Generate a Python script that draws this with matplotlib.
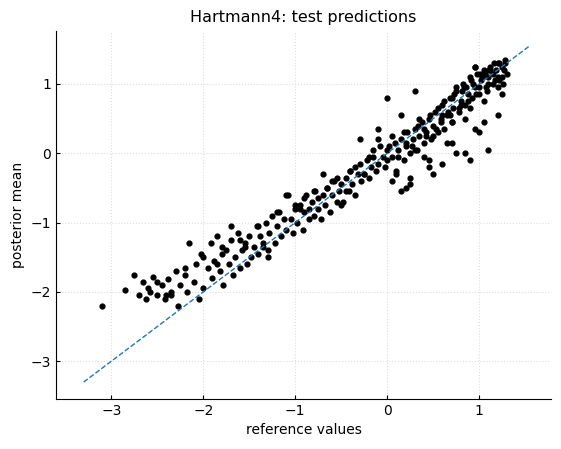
import matplotlib
matplotlib.use("Agg")
import matplotlib.pyplot as plt

ref_x = [-3.1,-2.85,-2.75,-2.7,-2.65,-2.62,-2.58,-2.55,-2.5,-2.45,-2.42,-2.38,-2.35,-2.3,-2.28,-2.25,-2.2,-2.18,-2.15,-2.1,-2.08,-2.05,-2.02,-2.0,
 -1.95,-1.92,-1.9,-1.88,-1.85,-1.82,-1.8,-1.78,-1.75,-1.72,-1.7,-1.68,-1.65,-1.62,-1.6,-1.58,-1.55,-1.52,-1.5,-1.48,-1.45,-1.42,-1.4,-1.38,-1.35,-1.32,-1.3,-1.28,-1.25,-1.22,-1.2,-1.18,-1.15,-1.12,-1.1,-1.08,-1.05,-1.02,-1.0,
 -0.98,-0.95,-0.92,-0.9,-0.88,-0.85,-0.82,-0.8,-0.78,-0.75,-0.72,-0.7,-0.68,-0.65,-0.62,-0.6,-0.58,-0.55,-0.52,-0.5,-0.48,-0.45,-0.42,-0.4,-0.38,-0.35,-0.32,-0.3,-0.28,-0.25,-0.22,-0.2,-0.18,-0.15,-0.12,-0.1,-0.08,-0.05,-0.02,
 0.0,0.02,0.05,0.08,0.1,0.12,0.15,0.18,0.2,0.22,0.25,0.28,0.3,0.32,0.35,0.38,0.4,0.42,0.45,0.48,0.5,0.52,0.55,0.58,0.6,0.62,0.65,0.68,0.7,0.72,0.75,0.78,0.8,0.82,0.85,0.88,0.9,0.92,0.95,0.98,1.0,1.02,1.05,1.08,1.1,1.12,1.15,1.18,1.2,1.22,1.25,1.28,1.3,
 -2.6,-2.4,-2.2,-2.0,-1.8,-1.6,-1.4,-1.2,-1.0,-0.8,-0.6,-0.4,-0.2,0.0,0.1,0.2,0.3,0.4,0.5,0.6,0.7,0.8,0.9,1.0,1.1,1.2,1.25,
 -1.7,-1.3,-0.9,-0.5,-0.1,0.05,0.15,0.25,0.35,0.45,0.55,0.65,0.75,0.85,0.95,1.05,1.15,1.25,1.28,
 0.3,0.0,0.9,0.75,0.2,-0.1,0.5,1.0,0.6,1.1,0.15,0.45,0.85,1.2,0.95,0.7,1.05,0.4,0.25,-0.3,-0.7,-1.1,
 0.62,0.68,0.73,0.78,0.83,0.88,0.93,0.97,1.03,1.07,1.12,1.17,1.22,1.27,0.66,0.71,0.81,0.91,1.01,1.11,1.21,0.86,0.96,1.06,1.16,1.26,
 0.05,0.12,0.18,0.27,0.33,0.42,0.47,0.53,0.58,-0.15,-0.25,-0.35,-0.45,-0.55,-0.65,-0.75,-0.85,-0.95,-1.35,-1.55,-1.85,-2.35,-2.5]
post_y = [-2.2,-1.97,-1.75,-2.05,-1.85,-2.1,-2.0,-1.78,-2.05,-1.9,-2.1,-1.82,-2.0,-1.7,-2.2,-1.9,-1.75,-2.0,-1.3,-1.85,-1.6,-2.1,-1.45,-1.95,
 -1.65,-1.3,-1.8,-1.55,-1.2,-1.7,-1.45,-1.9,-1.4,-1.6,-1.25,-1.75,-1.5,-1.15,-1.65,-1.4,-1.3,-1.6,-1.2,-1.5,-1.35,-1.05,-1.45,-1.2,-1.3,-1.0,-1.4,-1.15,-0.9,-1.3,-1.05,-0.85,-1.2,-0.95,-1.1,-0.6,-0.95,-1.15,-0.8,
 -1.0,-0.75,-1.1,-0.85,-0.6,-0.95,-0.7,-0.9,-0.55,-0.8,-0.95,-0.6,-0.75,-0.5,-0.85,-0.6,-0.4,-0.7,-0.55,-0.45,-0.7,-0.35,-0.55,-0.25,-0.45,-0.6,-0.3,-0.15,-0.4,-0.3,-0.1,-0.35,-0.2,0.05,-0.25,-0.15,0.1,-0.05,-0.2,
 -0.1,0.1,-0.05,0.15,-0.25,0.05,0.2,-0.1,0.1,0.3,0.0,0.2,0.35,0.05,0.25,0.45,0.15,0.3,0.5,0.2,0.4,0.6,0.3,0.5,0.7,0.35,0.55,0.8,0.45,0.65,0.9,0.6,0.75,1.0,0.7,0.85,1.1,0.8,0.95,1.15,0.85,1.05,1.2,0.9,1.1,1.25,1.0,1.2,1.3,1.05,1.25,1.35,1.15,
 -1.95,-2.05,-1.65,-1.5,-1.35,-1.25,-1.05,-0.85,-0.75,-0.55,-0.4,-0.25,-0.05,0.05,-0.3,0.15,0.05,0.35,0.25,0.55,0.45,0.7,0.65,0.95,1.0,0.95,1.1,
 -1.05,-1.5,-0.65,-0.75,0.2,-0.4,0.55,-0.35,0.5,-0.1,0.65,0.15,0.95,0.5,1.25,0.75,1.15,0.85,1.3,
 0.9,0.8,-0.1,0.0,-0.5,0.35,-0.3,0.3,-0.15,0.05,-0.55,-0.2,0.0,0.55,0.35,0.15,0.45,-0.05,-0.45,0.2,-0.3,-0.6,
 0.75,0.55,0.85,0.65,0.95,0.75,1.0,0.85,1.1,0.95,1.2,1.05,1.3,1.2,0.6,0.8,0.9,1.05,1.15,1.2,1.1,0.95,1.25,1.15,1.3,1.0,
 0.25,-0.05,0.3,0.1,0.4,0.25,0.55,0.35,0.45,-0.05,-0.3,-0.2,-0.55,-0.35,-0.5,-0.65,-0.8,-0.8,-1.35,-1.35,-1.6,-2.05,-1.85]

fig = plt.figure(figsize=(5.61, 4.49), dpi=100)
ax = fig.add_axes([0.1, 0.112, 0.882, 0.82])
ax.scatter(ref_x, post_y, s=12, color="black", zorder=3)
ax.plot([-3.3, 1.55], [-3.3, 1.55], "--", color="#1f77b4", lw=1, zorder=4)
ax.set_xlim(-3.6, 1.78)
ax.set_ylim(-3.54, 1.77)
ax.set_xticks([-3, -2, -1, 0, 1])
ax.set_yticks([-3, -2, -1, 0, 1])
ax.grid(True, linestyle=":", color="#dddddd", lw=0.8)
for s in ["top", "right"]:
    ax.spines[s].set_visible(False)
ax.tick_params(direction="in", length=3)
ax.set_xlabel("reference values")
ax.set_ylabel("posterior mean")
ax.set_title("Hartmann4: test predictions", fontsize=11.5)
fig.savefig("out.png", dpi=100)
